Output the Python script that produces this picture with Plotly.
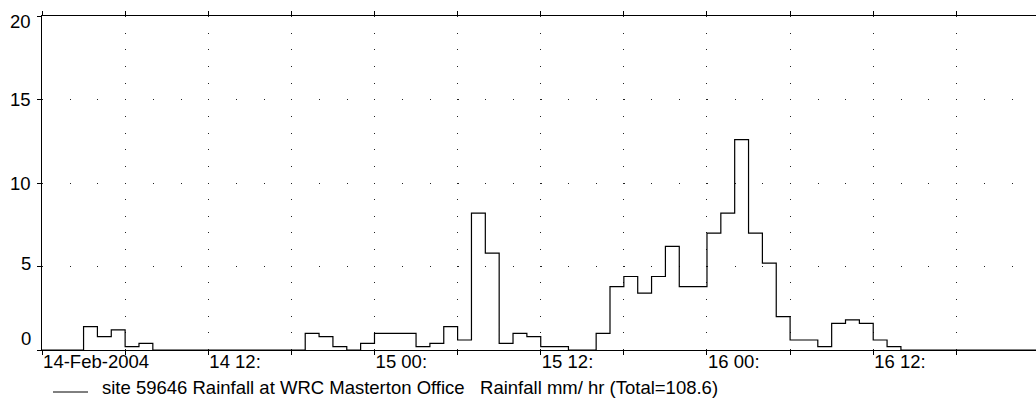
import plotly.graph_objects as go
from datetime import datetime, timedelta

START = datetime(2004, 2, 14, 0, 0)

# Hourly rainfall (mm) at site 59646, starting 14-Feb-2004 00:00
rain_mm = [
    0, 0, 0, 1.4, 0.8, 1.2, 0.2, 0.4,            # 14th 00-07
    0, 0, 0, 0, 0, 0, 0, 0, 0, 0, 0,             # 14th 08-18
    1.0, 0.8, 0.2, 0, 0.4,                       # 14th 19-23
    1.0, 1.0, 1.0, 0.2, 0.4, 1.4, 0.6,           # 15th 00-06
    8.2, 5.8, 0.4, 1.0, 0.8, 0.2, 0.2,           # 15th 07-13
    0, 0,                                        # 15th 14-15
    1.0, 3.8, 4.4, 3.4, 4.4, 6.2, 3.8, 3.8,      # 15th 16-23
    7.0, 8.2, 12.6, 7.0, 5.2, 2.0,               # 16th 00-05
    0.6, 0.6, 0.2, 1.6, 1.8, 1.6, 0.6, 0.2,      # 16th 06-13
    0, 0, 0, 0, 0, 0, 0, 0, 0, 0,                # 16th 14-23
]

x_tick_hours = [0, 6, 12, 18, 24, 30, 36, 42, 48, 54, 60, 66]
x_tick_text = ["14-Feb-2004", "", "14 12:", "", "15 00:", "", "15 12:", "",
               "16 00:", "", "16 12:", ""]
y_tick_vals = [0, 5, 10, 15, 20]
y_tick_text = ["0", "5", "10", "15", "20"]
legend_text = "site 59646 Rainfall at WRC Masterton Office   Rainfall mm/ hr (Total=108.6)"

FONT = "Liberation Sans, Arial, sans-serif"
W, H = 1036, 401
ML, MR, MT, MB = 42, 0, 16, 51
PLOT_W, PLOT_H = W - ML - MR, H - MT - MB

times = [START + timedelta(hours=h) for h in range(len(rain_mm))]
# step trace: each hourly value holds until the next hour
x_step = times + [times[-1] + timedelta(hours=1)]
y_step = rain_mm + [rain_mm[-1]]

tick_times = [START + timedelta(hours=h) for h in x_tick_hours]
x_range = [START, START + timedelta(hours=71.75)]

fig = go.Figure()
fig.add_trace(go.Scatter(
    x=x_step, y=y_step, mode="lines", line_shape="hv",
    line=dict(color="#000000", width=1.2), showlegend=False,
))

axis_font = dict(family=FONT, size=18.5, color="#000000")

fig.update_layout(
    width=W, height=H,
    margin=dict(l=ML, r=MR, t=MT, b=MB),
    paper_bgcolor="white", plot_bgcolor="white",
    font=axis_font,
    xaxis=dict(
        type="date", range=x_range,
        tickmode="array", tickvals=tick_times, ticktext=x_tick_text,
        ticks="outside", ticklen=4, tickwidth=1, tickcolor="#000",
        showline=True, linecolor="#000", linewidth=1.2, mirror="ticks",
        showgrid=True, gridcolor="#222", gridwidth=1, griddash="1px,15.65px",
        ticklabelposition="outside right", ticklabelstandoff=-5,
        tickfont=axis_font, zeroline=False,
    ),
    xaxis2=dict(
        type="date", range=x_range, overlaying="x", anchor="y",
        tickmode="array", tickvals=tick_times,
        ticks="inside", ticklen=5, tickwidth=1, tickcolor="#000",
        mirror="ticks", showline=False, showgrid=False, showticklabels=False,
        zeroline=False,
    ),
    yaxis=dict(
        range=[0, 20], tickmode="array", tickvals=y_tick_vals,
        showticklabels=False,
        ticks="outside", ticklen=4, tickwidth=1, tickcolor="#000",
        showline=True, linecolor="#000", linewidth=1.2,
        showgrid=True, gridcolor="#222", gridwidth=1, griddash="1px,26.7px",
        zeroline=False,
    ),
)

# y tick labels, nudged inward at the ends of the axis
label_shift = {0: 12, 20: -5, 5: 3}
for v, t in zip(y_tick_vals, y_tick_text):
    fig.add_annotation(
        x=0, xref="paper", y=v, yref="y", text=t, showarrow=False,
        xanchor="right", yanchor="middle", xshift=-9,
        yshift=label_shift.get(v, 0), font=axis_font,
    )

# legend: short line sample followed by the series caption
fig.add_shape(
    type="line", xref="paper", yref="paper",
    x0=(53 - ML) / PLOT_W, x1=(88 - ML) / PLOT_W,
    y0=-42 / PLOT_H, y1=-42 / PLOT_H,
    line=dict(color="#000", width=1),
)
fig.add_annotation(
    x=0, xref="paper", y=0, yref="paper", xshift=100 - ML, yshift=-37,
    text=legend_text.replace("   ", "\u00a0\u00a0\u00a0"),
    showarrow=False, xanchor="left", yanchor="middle", font=axis_font,
)

fig.write_html("out.html")
